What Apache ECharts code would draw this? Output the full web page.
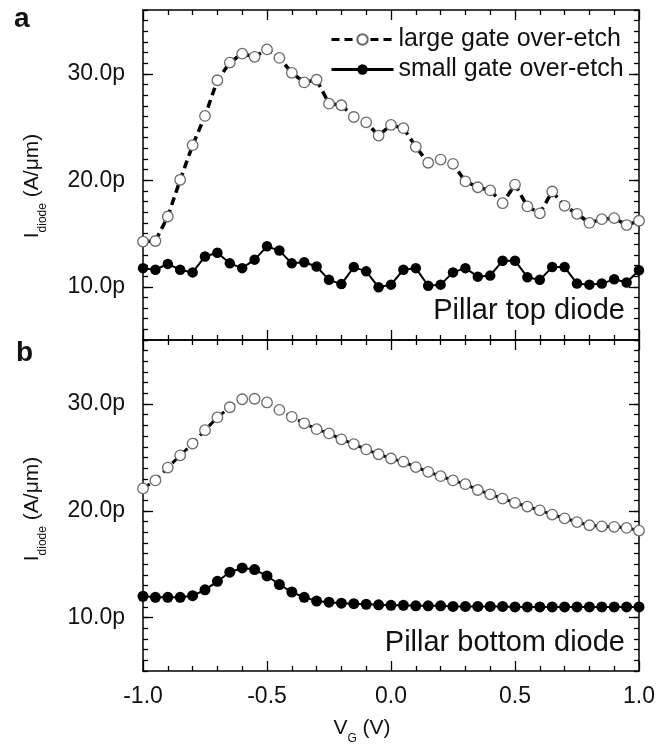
<!DOCTYPE html>
<html>
<head>
<meta charset="utf-8">
<script src="https://cdn.jsdelivr.net/npm/echarts@6/dist/echarts.min.js"></script>
<style>
  html, body { margin: 0; padding: 0; background: #fff; }
  #chart { width: 667px; height: 744px; }
</style>
</head>
<body>
<div id="chart"></div>
<script>
// gate voltage, V (step 0.05)
const vg = [-1.0, -0.95, -0.9, -0.85, -0.8, -0.75, -0.7, -0.65, -0.6, -0.55,
            -0.5, -0.45, -0.4, -0.35, -0.3, -0.25, -0.2, -0.15, -0.1, -0.05,
            0.0, 0.05, 0.1, 0.15, 0.2, 0.25, 0.3, 0.35, 0.4, 0.45,
            0.5, 0.55, 0.6, 0.65, 0.7, 0.75, 0.8, 0.85, 0.9, 0.95, 1.0];

// panel a - pillar top diode (pA/um)
const topLarge = [14.25, 14.3, 16.6, 20.05, 23.3, 26.05, 29.4, 31.06, 31.9, 31.6,
                  32.3, 31.5, 30.1, 29.2, 29.45, 27.2, 27.05, 25.95, 25.45, 24.2,
                  25.2, 24.9, 23.15, 21.65, 21.95, 21.55, 19.9, 19.35, 19.05, 17.85,
                  19.6, 17.55, 16.9, 18.95, 17.6, 16.85, 16.0, 16.35, 16.45, 15.8, 16.2];
const topSmall = [11.75, 11.6, 12.15, 11.6, 11.35, 12.85, 13.2, 12.2, 11.75, 12.55,
                  13.8, 13.4, 12.2, 12.3, 11.9, 10.65, 10.25, 11.85, 11.45, 9.95,
                  10.2, 11.6, 11.75, 10.1, 10.2, 11.35, 11.75, 10.95, 11.05, 12.45,
                  12.45, 10.9, 10.65, 11.85, 11.85, 10.3, 10.2, 10.3, 10.7, 10.4, 11.55];

// panel b - pillar bottom diode (pA/um)
const botLarge = [22.1, 22.85, 24.05, 25.2, 26.3, 27.55, 28.75, 29.7, 30.45, 30.5,
                  30.15, 29.45, 28.8, 28.2, 27.65, 27.25, 26.7, 26.25, 25.75, 25.3,
                  24.9, 24.6, 24.1, 23.65, 23.25, 22.85, 22.5, 21.95, 21.55, 21.15,
                  20.75, 20.4, 20.05, 19.65, 19.3, 18.95, 18.65, 18.55, 18.5, 18.4, 18.15];
const botSmall = [12.0, 11.9, 11.9, 11.9, 12.05, 12.6, 13.4, 14.25, 14.65, 14.5,
                  13.9, 13.1, 12.4, 11.9, 11.55, 11.45, 11.35, 11.3, 11.25, 11.2,
                  11.15, 11.15, 11.1, 11.1, 11.1, 11.05, 11.05, 11.05, 11.05, 11.05,
                  11.0, 11.0, 11.0, 11.0, 11.0, 11.0, 11.0, 11.0, 11.0, 11.0, 11.0];

const yTicks = [10, 20, 30];
const xTickLabels = ['-1.0', '-0.5', '0.0', '0.5', '1.0'];
const seriesNames = ['large gate over-etch', 'small gate over-etch'];

const FONT = 'Liberation Sans';
const axisLine = { show: true, onZero: false, lineStyle: { color: '#000', width: 1.5 } };

function xAxisFor(gridIndex, position, showLabels) {
    return {
        type: 'value', gridIndex: gridIndex, position: position,
        min: -1, max: 1, interval: 0.5,
        axisLine: axisLine,
        axisTick: { inside: true, length: 10, lineStyle: { color: '#000', width: 1.3 } },
        minorTick: { show: true, splitNumber: 5, length: 5, lineStyle: { color: '#000', width: 1.3 } },
        splitLine: { show: false },
        axisLabel: {
            show: showLabels, margin: 14, fontSize: 23, color: '#111', fontFamily: FONT,
            formatter: v => xTickLabels[Math.round((v + 1) * 2)]
        }
    };
}

// major y ticks (with labels on the left) + minor y ticks every 1p
function yAxesFor(gridIndex, position, showLabels) {
    return [{
        type: 'value', gridIndex: gridIndex, position: position,
        min: 5, max: 36,
        axisLine: axisLine,
        axisTick: { inside: true, length: 10, customValues: yTicks, lineStyle: { color: '#000', width: 1.3 } },
        splitLine: { show: false },
        axisLabel: {
            show: showLabels, customValues: yTicks, margin: 18, fontSize: 23, color: '#111', fontFamily: FONT,
            formatter: v => v.toFixed(1) + 'p'
        }
    }, {
        type: 'value', gridIndex: gridIndex, position: position,
        min: 5, max: 36, interval: 1,
        axisLine: { show: false, onZero: false },
        axisTick: { inside: true, length: 5, lineStyle: { color: '#000', width: 1.3 } },
        splitLine: { show: false },
        axisLabel: { show: false }
    }];
}

function pairs(ys) {
    return vg.map((x, i) => [x, ys[i]]);
}

function largeSeries(ys, xi, yi, size, width) {
    return {
        name: seriesNames[0], type: 'line', xAxisIndex: xi, yAxisIndex: yi,
        data: pairs(ys), symbol: 'circle', symbolSize: size,
        itemStyle: { color: '#fff', borderColor: '#6a6a6a', borderWidth: 1.3 },
        lineStyle: { color: '#000', width: width, type: [8, 5] },
        z: 3
    };
}

function smallSeries(ys, xi, yi, size) {
    return {
        name: seriesNames[1], type: 'line', xAxisIndex: xi, yAxisIndex: yi,
        data: pairs(ys), symbol: 'circle', symbolSize: size,
        itemStyle: { color: '#000' },
        lineStyle: { color: '#000', width: 2 },
        z: 4
    };
}

function axisTitle(x, y, rotate, main, sub, rest) {
    return {
        type: 'text', x: x, y: y, rotation: rotate ? Math.PI / 2 : 0,
        style: {
            text: '{n|' + main + '}{s|' + sub + '}{n|' + rest + '}',
            align: 'center', verticalAlign: 'middle',
            rich: {
                n: { fontSize: 21, fontFamily: FONT, fill: '#111', lineHeight: 34 },
                s: { fontSize: 12, fontFamily: FONT, fill: '#111', lineHeight: 12, verticalAlign: 'bottom' }
            }
        }
    };
}

const chart = echarts.init(document.getElementById('chart'));

chart.setOption({
    animation: false,
    textStyle: { fontFamily: FONT },
    grid: [
        { left: 143, top: 10, width: 496, height: 330 },
        { left: 143, top: 340, width: 496, height: 331 }
    ],
    xAxis: [
        xAxisFor(0, 'bottom', false),
        xAxisFor(0, 'top', false),
        xAxisFor(1, 'bottom', true),
        xAxisFor(1, 'top', false)
    ],
    yAxis: [].concat(
        yAxesFor(0, 'left', true),
        yAxesFor(0, 'right', false),
        yAxesFor(1, 'left', true),
        yAxesFor(1, 'right', false)
    ),
    legend: {
        data: seriesNames,
        orient: 'vertical', left: 325, top: 22,
        itemWidth: 62, itemHeight: 13, itemGap: 5,
        lineStyle: { width: 3 },
        textStyle: { fontSize: 25, color: '#111', fontFamily: FONT }
    },
    series: [
        largeSeries(topLarge, 0, 0, 10.5, 3.5),
        smallSeries(topSmall, 0, 0, 10.5),
        largeSeries(botLarge, 2, 4, 10.5, 3),
        smallSeries(botSmall, 2, 4, 11)
    ],
    graphic: [
        { type: 'text', x: 14, y: 19, style: { text: 'a', fontSize: 28, fontWeight: 'bold', fontFamily: FONT, fill: '#111', verticalAlign: 'middle' } },
        { type: 'text', x: 16, y: 353, style: { text: 'b', fontSize: 28, fontWeight: 'bold', fontFamily: FONT, fill: '#111', verticalAlign: 'middle' } },
        { type: 'text', x: 625, y: 311, style: { text: 'Pillar top diode', fontSize: 29, fontFamily: FONT, fill: '#111', align: 'right', verticalAlign: 'middle' } },
        { type: 'text', x: 625, y: 643, style: { text: 'Pillar bottom diode', fontSize: 29, fontFamily: FONT, fill: '#111', align: 'right', verticalAlign: 'middle' } },
        axisTitle(32, 186, true, 'I', 'diode', ' (A/\u03bcm)'),
        axisTitle(32, 509, true, 'I', 'diode', ' (A/\u03bcm)'),
        axisTitle(362, 728, false, 'V', 'G', ' (V)')
    ]
});
</script>
</body>
</html>
